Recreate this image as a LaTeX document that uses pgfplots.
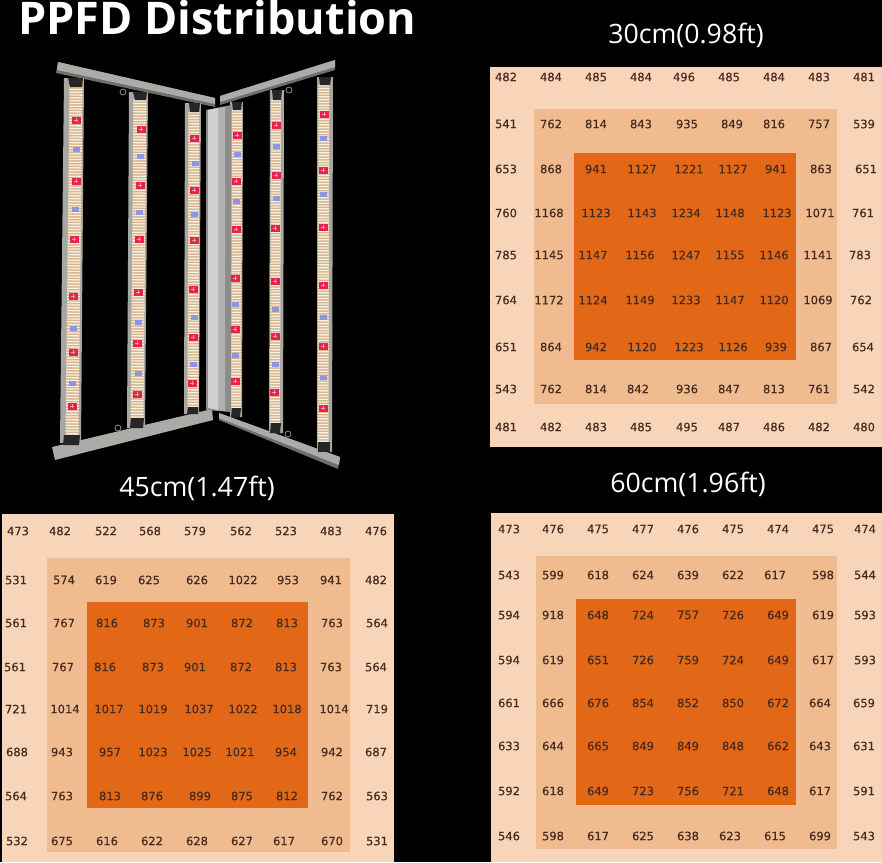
\documentclass[border=0pt]{standalone}
\usepackage{fontspec}
\usepackage{pgfplots}
\usepackage{pgfplotstable}
\pgfplotsset{compat=1.18}
\setmainfont{Open Sans}
\newfontfamily\valfont[FakeBold=0.25]{DejaVu Sans}

\definecolor{outerc}{HTML}{F8D5B8}
\definecolor{midc}{HTML}{F0BB8E}
\definecolor{innerc}{HTML}{E26817}
\definecolor{valc}{HTML}{452A1F}
\definecolor{framec}{HTML}{A6A6A2}
\definecolor{barc}{HTML}{ABABA7}
\definecolor{barlow}{HTML}{6E6E6B}
\definecolor{ledbase}{HTML}{D6B48E}
\definecolor{ledtop}{HTML}{F7EFE0}
\definecolor{ledred}{HTML}{E8224F}
\definecolor{ledblue}{HTML}{8A97E4}

% all tables are in pixels of the picture, y down
\pgfplotstableread{
x y v
506 77 482
551 77 484
596 77 485
641 77 484
684 77 496
729 77 485
774 77 484
819 77 483
864 77 481
506 124 541
551 124 762
596 124 814
641 124 843
687 124 935
732 124 849
774 124 816
819 124 757
864 124 539
506 169 653
551 169 868
596 169 941
642 169 1127
689 169 1221
733 169 1127
776 169 941
821 169 863
866 169 651
506 213 760
549 213 1168
596 213 1123
642 213 1143
686 213 1234
730 213 1148
777 213 1123
820 213 1071
863 213 761
506 255 785
549 255 1145
593 255 1147
640 255 1156
686 255 1247
730 255 1155
774 255 1146
818 255 1141
860 255 783
506 300 764
549 300 1172
593 300 1124
640 300 1149
686 300 1233
730 300 1147
774 300 1120
818 300 1069
861 300 762
506 347 651
551 347 864
596 347 942
642 347 1120
689 347 1223
733 347 1126
776 347 939
821 347 867
863 347 654
506 389 543
551 389 762
596 389 814
638 389 842
687 389 936
729 389 847
774 389 813
819 389 761
864 389 542
506 427 481
551 427 482
596 427 483
641 427 485
687 427 495
729 427 487
774 427 486
819 427 482
864 427 480
}\tablethirty

\pgfplotstableread{
x y v
18 531 473
60 531 482
106 531 522
150 531 568
195 531 579
241 531 562
286 531 523
331 531 483
376 531 476
16 580 531
64 580 574
106 580 619
149 580 625
197 580 626
243 580 1022
288 580 953
331 580 941
376 580 482
16 623 561
64 623 767
107 623 816
154 623 873
197 623 901
242 623 872
287 623 813
332 623 763
377 623 564
15 667 561
63 667 767
105 667 816
153 667 873
195 667 901
241 667 872
286 667 813
331 667 763
376 667 564
16 709 721
65 709 1014
109 709 1017
153 709 1019
199 709 1037
243 709 1022
287 709 1018
334 709 1014
377 709 719
17 752 688
62 752 943
110 752 957
153 752 1023
197 752 1025
240 752 1021
286 752 954
332 752 942
376 752 687
16 796 564
62 796 763
110 796 813
152 796 876
200 796 899
242 796 875
287 796 812
332 796 762
377 796 563
17 841 532
62 841 675
107 841 616
152 841 622
197 841 628
242 841 627
284 841 617
332 841 670
377 841 531
}\tablefortyfive

\pgfplotstableread{
x y v
509 529 473
553 529 476
598 529 475
643 529 477
688 529 476
733 529 475
778 529 474
823 529 475
865 529 474
509 575 543
553 575 599
598 575 618
643 575 624
688 575 639
733 575 622
775 575 617
823 575 598
865 575 544
509 615 594
553 615 918
598 615 648
643 615 724
688 615 757
733 615 726
778 615 649
823 615 619
865 615 593
509 660 594
553 660 619
598 660 651
643 660 726
688 660 759
733 660 724
778 660 649
823 660 617
865 660 593
509 703 661
553 703 666
598 703 676
643 703 854
688 703 852
733 703 850
778 703 672
820 703 664
864 703 659
509 746 633
553 746 644
598 746 665
643 746 849
688 746 849
733 746 848
778 746 662
820 746 643
864 746 631
509 791 592
553 791 618
598 791 649
643 791 723
688 791 756
733 791 721
778 791 648
820 791 617
864 791 591
509 836 546
553 836 598
598 836 617
643 836 625
688 836 638
730 836 623
775 836 615
820 836 699
864 836 543
}\tablesixty

\pgfplotstableread{
x y
76 120
76 181
74 239
73 296
73 352
72 406
141 129
140 185
139 239
138 292
137 343
137 394
194 138
194 190
194 240
193 289
193 337
192 383
237 135
236 181
236 229
235 278
235 329
235 381
276 125
276 175
275 228
275 281
275 336
274 392
324 114
323 170
323 227
323 285
323 346
323 408
}\redleds

\newcommand{\block}[2]{\addplot[fill=#1,draw=none] coordinates {#2} -- cycle;}
\newcommand{\values}[1]{\addplot[only marks,mark=none,nodes near coords,
  point meta=explicit symbolic,
  nodes near coords style={anchor=center,inner sep=0pt,text=valc,
    font=\valfont\fontsize{11.5}{12}\selectfont}]
  table[x=x,y=y,meta=v] {#1};}
% frame polygon, led column, its width, the two end caps
\newcommand{\ledbar}[5]{%
  \addplot[fill=framec,draw=none] coordinates {#1} -- cycle;
  \addplot[ledbase,line width=#3pt,no marks] coordinates {#2};
  \addplot[ledtop,line width=#3pt,no marks,dash pattern=on 1.3pt off 1.5pt] coordinates {#2};
  \addplot[fill=black!85,draw=none] coordinates {#4} -- cycle;
  \addplot[fill=black!85,draw=none] coordinates {#5} -- cycle;
}

\begin{document}
\begin{tikzpicture}
\path[use as bounding box,clip] (0,0) rectangle (882pt,862pt);
\begin{axis}[
  at={(0,0)},anchor=south west,
  scale only axis,width=882pt,height=862pt,
  xmin=0,xmax=882,ymin=0,ymax=862,y dir=reverse,
  hide axis,clip=false,
]
\block{black}{(0,0)(882,0)(882,862)(0,862)}

% heat maps
\block{outerc}{(490,67)(882,67)(882,447)(490,447)}
\block{midc}{(534,109)(837,109)(837,404)(534,404)}
\block{innerc}{(574,153)(796,153)(796,360)(574,360)}
\values{\tablethirty}

\block{outerc}{(2,514)(394,514)(394,862)(2,862)}
\block{midc}{(47,558)(350,558)(350,852)(47,852)}
\block{innerc}{(87,602)(308,602)(308,808)(87,808)}
\values{\tablefortyfive}

\block{outerc}{(491,513)(882,513)(882,862)(491,862)}
\block{midc}{(536,556)(837,556)(837,849)(536,849)}
\block{innerc}{(576,599)(796,599)(796,805)(576,805)}
\values{\tablesixty}

% fixture
\block{barlow}{(58,62)(215,98)(215,107)(56,73)}
\block{barc}{(58,62)(215,98)(215,104)(57,70)}
\block{barlow}{(220,96)(335,60)(335,70)(220,105)}
\block{barc}{(220,96)(335,60)(335,67)(220,102)}
\block{barc}{(52,447)(212,409)(213,420)(55,460)}
\block{barlow}{(219,413)(340,457)(338,469)(219,420)}
\block{barc}{(219,413)(340,457)(339,465)(219,418)}
\ledbar{(64,78)(84,78)(81,443)(60,443)}{(76,86)(72,435)}{13}{(68,78)(83,78)(82,87)(70,87)}{(64,435)(80,435)(79,445)(63,445)}
\ledbar{(129,92)(148,92)(145,428)(127,428)}{(140,100)(137,418)}{13}{(133,92)(147,92)(146,100)(135,100)}{(131,418)(144,418)(143,428)(130,428)}
\ledbar{(185,103)(201,103)(199,414)(184,414)}{(194,112)(193,407)}{11}{(189,103)(200,103)(199,112)(190,112)}{(188,407)(198,407)(198,414)(187,414)}
\ledbar{(230,102)(243,102)(242,417)(230,417)}{(237,110)(236,408)}{10}{(232,102)(242,102)(241,110)(233,110)}{(232,408)(241,408)(240,417)(231,417)}
\ledbar{(270,90)(284,90)(283,433)(269,433)}{(276,100)(275,423)}{10}{(272,90)(282,90)(281,100)(273,100)}{(271,423)(281,423)(280,433)(270,433)}
\ledbar{(317,77)(333,77)(332,452)(317,452)}{(324,85)(323,442)}{11}{(319,77)(331,77)(330,85)(320,85)}{(318,442)(330,442)(330,452)(318,452)}
% centre post
\block{black!45}{(206,110)(231,105)(231,412)(206,410)}
\block{black!18}{(208,110)(218,108)(218,410)(208,408)}
\block{black!30}{(218,108)(225,107)(225,411)(218,410)}
% red and blue leds
\addplot[only marks,mark=square*,mark size=3.2pt,ledred,mark options={draw=none,xscale=1.3}] table[x=x,y=y] {\redleds};
\addplot[only marks,mark=+,mark size=2.2pt,white!55!ledred,line width=0.5pt] table[x=x,y=y] {\redleds};
\addplot[only marks,mark=square*,mark size=1.8pt,ledblue,mark options={draw=none,xscale=1.7}] coordinates {
(76,149)(75,209)(73,328)(72,383)
(140,156)(139,212)(138,322)(138,373)
(195,163)(194,214)(194,317)(193,364)
(237,154)(236,201)(235,304)(235,355)
(276,146)(276,198)(275,309)(275,364)
(323,138)(323,194)(323,317)(323,377)};
% hanging rings
\addplot[only marks,mark=o,mark size=3pt,black!45,line width=0.8pt] coordinates {(123,92)(289,90)(118,428)(288,434)};

% titles
\node[anchor=base west,text=white,inner sep=0pt,font=\bfseries\fontsize{45}{48}\selectfont] at (axis cs:18,34) {PPFD Distribution};
\node[anchor=base,text=white,inner sep=0pt,font=\fontsize{26.7}{30}\selectfont] at (axis cs:686,43) {30cm(0.98ft)};
\node[anchor=base,text=white,inner sep=0pt,font=\fontsize{26.7}{30}\selectfont] at (axis cs:197,496) {45cm(1.47ft)};
\node[anchor=base,text=white,inner sep=0pt,font=\fontsize{26.7}{30}\selectfont] at (axis cs:688,492) {60cm(1.96ft)};
\end{axis}
\end{tikzpicture}
\end{document}
